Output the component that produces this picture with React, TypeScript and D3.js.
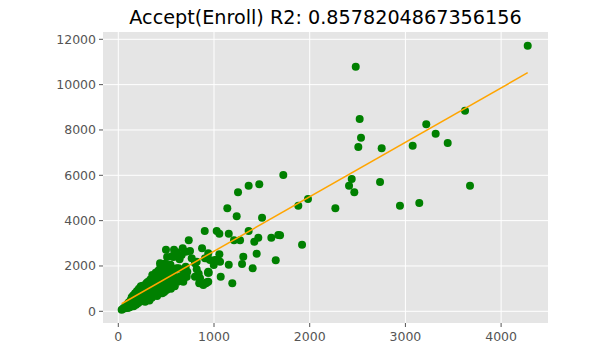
import React from "react";
import * as d3 from "d3";

// Enroll (x) values
const enroll: number[] = [
  35, 50, 60, 70, 80, 90, 95, 100, 105, 110, 120, 125, 130, 135, 140, 145, 150, 155, 160, 165,
  170, 175, 180, 185, 190, 195, 200, 205, 210, 215, 220, 225, 230, 235, 240, 245, 250, 255, 260, 265,
  270, 275, 280, 285, 290, 295, 300, 305, 310, 315, 320, 325, 330, 335, 340, 345, 350, 355, 360, 365,
  370, 375, 380, 385, 390, 395, 400, 405, 410, 415, 420, 425, 430, 435, 440, 445, 450, 455, 460, 465,
  470, 475, 480, 485, 490, 495, 500, 510, 515, 520, 530, 540, 545, 550, 560, 570, 575, 580, 590, 600,
  610, 620, 630, 640, 650,
  4278, 3623, 3218, 3316, 3076, 3442, 2752, 2735, 2943, 3145, 3675, 2481, 2522, 2536, 2508, 2439,
  2411, 2466, 2268, 1724, 1982, 1881, 1690, 1920, 1473, 1362, 1251, 1139, 1237, 1502, 903, 1028,
  1056, 1154, 1362, 1209, 1272, 1421, 1463, 1599, 1672, 875, 1306, 1293, 1446, 1645, 1404, 1154,
  1028, 1000, 958, 924, 1056, 805, 819, 945, 1070, 846, 916, 1191, 736, 498, 582, 673, 707, 558,
  592, 436, 457, 411, 704, 721, 687, 801, 641, 666, 840, 937, 997, 850, 924, 662, 767, 470, 540,
  558, 610, 679, 819, 906, 940, 1010, 1063, 801, 854, 940, 888, 940, 679, 715, 575, 540, 401, 436,
  505, 749,
];

// Accept (y) values
const accept: number[] = [
  72, 110, 160, 130, 250, 200, 320, 150, 260, 400, 180, 330, 500, 250, 620, 420, 300, 700, 220, 520,
  380, 800, 600, 290, 450, 900, 700, 350, 560, 1000, 800, 420, 650, 1100, 900, 500, 750, 1130, 1000, 580,
  850, 1150, 420, 700, 1000, 1250, 550, 850, 1300, 650, 1100, 480, 900, 1400, 750, 1150, 600, 1600, 950, 1300,
  700, 1100, 1500, 820, 1700, 1000, 1250, 680, 1450, 900, 1800, 1100, 780, 1350, 2000, 950, 1600, 1200, 800, 1900,
  1050, 1450, 850, 2100, 1300, 1700, 1000, 2400, 1500, 1150, 1900, 1380, 2050, 1000, 1650, 1250, 2400, 1800, 1100, 1500,
  2600, 1300, 1900, 2300, 1550,
  11718, 8850, 8250, 7835, 7306, 7425, 7191, 5705, 4660, 4778, 5541, 10791, 8484, 7659, 7249, 5837,
  5541, 5250, 4544, 6013, 4954, 4660, 3353, 2938, 5603, 5541, 5250, 4544, 4191, 4130, 3543, 3543,
  3424, 3424, 3543, 3132, 3132, 3071, 3247, 3247, 3366, 2779, 2409, 2087, 2541, 2250, 1897, 2056,
  2263, 2162, 2263, 2338, 2515, 2162, 1853, 1703, 1527, 1235, 1235, 1235, 3132, 2718, 2718, 2779, 2629, 2427,
  2427, 2118, 1897, 1747, 1968, 1747, 1456, 2118, 1456, 1337, 1659, 1703, 2043, 1249, 1279, 2484, 2338, 2043, 2043,
  1676, 1897, 1822, 2188, 2338, 2559, 2263, 2188, 1527, 1456, 1747, 1160, 1306, 1306, 1527, 1160, 1381, 1306, 865,
  940, 2660,
];

// Fitted regression line endpoints
const lineEnroll: number[] = [35, 4278];
const lineAccept: number[] = [333, 10526];

const xTicks: number[] = [0, 1000, 2000, 3000, 4000];
const yTicks: number[] = [0, 2000, 4000, 6000, 8000, 10000, 12000];
const title = "Accept(Enroll) R2: 0.8578204867356156";

const W = 615;
const H = 359;
const M = { left: 103, right: 548, top: 32, bottom: 323 };

export default function App() {
  const x = d3.scaleLinear().domain([-160, 4490]).range([M.left, M.right]);
  const y = d3.scaleLinear().domain([-516, 12322]).range([M.bottom, M.top]);
  const pts = enroll.map((e, i) => [e, accept[i]] as [number, number]);
  const line = d3
    .line<number>()
    .x((d, i) => x(lineEnroll[i]))
    .y((d) => y(d));
  const tickColor = "#555555";
  const font = "DejaVu Sans, sans-serif";
  return (
    <svg
      width={W}
      height={H}
      style={{ position: "absolute", left: 0, top: 0, background: "#fff" }}
    >
      <rect x={M.left} y={M.top} width={M.right - M.left} height={M.bottom - M.top} fill="#E5E5E5" />
      {xTicks.map((t) => (
        <g key={"x" + t}>
          <line x1={x(t)} x2={x(t)} y1={M.top} y2={M.bottom} stroke="#fff" strokeWidth={1} />
          <line x1={x(t)} x2={x(t)} y1={M.bottom} y2={M.bottom + 4} stroke={tickColor} strokeWidth={1} />
          <text x={x(t)} y={M.bottom + 18} textAnchor="middle" fontFamily={font} fontSize={12.5} fill={tickColor}>
            {t}
          </text>
        </g>
      ))}
      {yTicks.map((t) => (
        <g key={"y" + t}>
          <line x1={M.left} x2={M.right} y1={y(t)} y2={y(t)} stroke="#fff" strokeWidth={1} />
          <line x1={M.left - 4} x2={M.left} y1={y(t)} y2={y(t)} stroke={tickColor} strokeWidth={1} />
          <text
            x={M.left - 7}
            y={y(t)}
            dy="0.35em"
            textAnchor="end"
            fontFamily={font}
            fontSize={12.5}
            fill={tickColor}
          >
            {t}
          </text>
        </g>
      ))}
      {pts.map((p, i) => (
        <circle key={i} cx={x(p[0])} cy={y(p[1])} r={4} fill="#008000" />
      ))}
      <path d={line(lineAccept) || ""} fill="none" stroke="#FFA500" strokeWidth={1.5} />
      <text
        x={(M.left + M.right) / 2}
        y={24}
        textAnchor="middle"
        fontFamily={font}
        fontSize={19.2}
        fill="#000"
      >
        {title}
      </text>
    </svg>
  );
}
